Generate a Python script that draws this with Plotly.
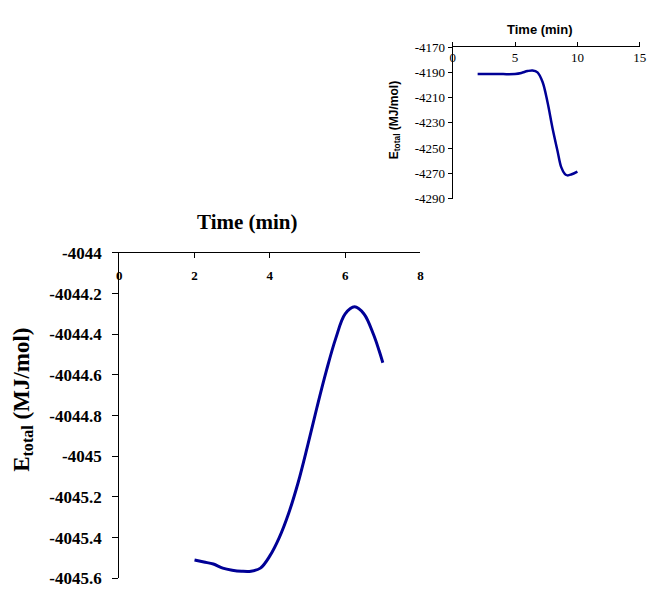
import plotly.graph_objects as go

# ---- Main chart data ----
main_time = [2.0, 2.25, 2.5, 2.75, 3.0, 3.25, 3.5, 3.75, 4.0, 4.25, 4.5, 4.75,
             5.0, 5.25, 5.5, 5.75, 6.0, 6.25, 6.5, 6.75, 6.9, 7.0]
main_energy = [-4045.51, -4045.52, -4045.53, -4045.55, -4045.56, -4045.565, -4045.565,
               -4045.55, -4045.49, -4045.40, -4045.28, -4045.13,
               -4044.95, -4044.76, -4044.58, -4044.42, -4044.30, -4044.265, -4044.30,
               -4044.40, -4044.48, -4044.54]
main_xticks = [0, 2, 4, 6, 8]
main_yticks = [-4044, -4044.2, -4044.4, -4044.6, -4044.8, -4045, -4045.2, -4045.4, -4045.6]
main_ytext = ["-4044", "-4044.2", "-4044.4", "-4044.6", "-4044.8", "-4045",
              "-4045.2", "-4045.4", "-4045.6"]

# ---- Inset chart data ----
inset_time = [2.0, 3.0, 4.0, 5.0, 5.5, 6.0, 6.4, 6.8, 7.2, 7.6, 8.0, 8.4, 8.7, 9.0, 9.2, 9.5, 10.0]
inset_energy = [-4191.4, -4191.4, -4191.4, -4191.3, -4190.5, -4189.0, -4188.5, -4190.0,
                -4197.5, -4213.5, -4234.0, -4252.0, -4265.0, -4270.5, -4271.5, -4270.8, -4268.5]
inset_xticks = [0, 5, 10, 15]
inset_yticks = [-4170, -4190, -4210, -4230, -4250, -4270, -4290]
inset_ytext = ["-4170", "-4190", "-4210", "-4230", "-4250", "-4270", "-4290"]

W, H = 652, 597
LINE = "#000096"
SERIF = "Liberation Serif, Times New Roman, serif"
SANS = "Liberation Sans, Arial, sans-serif"


def py(v):
    return 1 - v / H


MAIN_XDOM = [118 / W, 424 / W]
INSET_XDOM = [456.7 / W, 646.7 / W]

fig = go.Figure()
fig.add_trace(go.Scatter(x=main_time, y=main_energy, mode="lines",
                         line=dict(color=LINE, width=3, shape="spline"),
                         xaxis="x", yaxis="y", showlegend=False, hoverinfo="skip"))
fig.add_trace(go.Scatter(x=inset_time, y=inset_energy, mode="lines",
                         line=dict(color=LINE, width=2.5, shape="spline"),
                         xaxis="x2", yaxis="y2", showlegend=False, hoverinfo="skip"))
# empty traces so that the tick-label axes (x3 / x4) are drawn
fig.add_trace(go.Scatter(x=[], y=[], xaxis="x3", yaxis="y", showlegend=False))
fig.add_trace(go.Scatter(x=[], y=[], xaxis="x4", yaxis="y2", showlegend=False))

fig.update_layout(
    width=W, height=H, autosize=False,
    margin=dict(l=0, r=0, t=0, b=0),
    paper_bgcolor="white", plot_bgcolor="white",
    # main chart: axis line on top, labels via overlay axis just below
    xaxis=dict(domain=MAIN_XDOM, range=[0, 8], side="top",
               tickvals=main_xticks, showticklabels=False,
               showline=True, linecolor="black", linewidth=1,
               ticks="inside", ticklen=5, tickcolor="black",
               showgrid=False, zeroline=False, anchor="y"),
    xaxis3=dict(domain=MAIN_XDOM, overlaying="x", matches="x", anchor="free",
                position=py(265), side="bottom", range=[0, 8],
                tickvals=main_xticks, ticktext=[str(v) for v in main_xticks],
                showline=False, ticks="", showgrid=False, zeroline=False,
                ticklabeloverflow="allow",
                tickfont=dict(family=SERIF, size=13, color="black", weight="bold")),
    yaxis=dict(domain=[py(588), py(252)], range=[-4045.6, -4044],
               tickvals=main_yticks, ticktext=main_ytext,
               showline=True, linecolor="black", linewidth=1,
               ticks="outside", ticklen=6, tickcolor="black",
               ticklabelstandoff=7,
               showgrid=False, zeroline=False, ticklabeloverflow="allow",
               tickfont=dict(family=SERIF, size=17, color="black", weight="bold"),
               anchor="x"),
    # inset chart
    xaxis2=dict(domain=INSET_XDOM, range=[0, 15], side="top",
                tickvals=inset_xticks, showticklabels=False,
                showline=True, linecolor="black", linewidth=1,
                ticks="outside", ticklen=4, tickcolor="black",
                showgrid=False, zeroline=False, anchor="y2"),
    xaxis4=dict(domain=INSET_XDOM, overlaying="x2", matches="x2", anchor="free",
                position=py(40.5), side="bottom", range=[0, 15],
                tickvals=inset_xticks, ticktext=[str(v) for v in inset_xticks],
                showline=False, ticks="", showgrid=False, zeroline=False,
                ticklabeloverflow="allow",
                tickfont=dict(family=SERIF, size=13, color="black")),
    yaxis2=dict(domain=[py(196), py(39.3)], range=[-4290, -4170],
                tickvals=inset_yticks, ticktext=inset_ytext,
                showline=True, linecolor="black", linewidth=1,
                ticks="outside", ticklen=4, tickcolor="black",
                showgrid=False, zeroline=False, ticklabeloverflow="allow",
                tickfont=dict(family=SERIF, size=13, color="black"),
                anchor="x2"),
    annotations=[
        dict(text="Time (min)", x=248 / W, y=py(220), xref="paper", yref="paper",
             showarrow=False, xanchor="center", yanchor="middle",
             font=dict(family=SERIF, size=21, color="black", weight="bold")),
        dict(text="E<sub>total</sub> (MJ/mol)", x=20 / W, y=py(404),
             xref="paper", yref="paper", showarrow=False, textangle=-90,
             xanchor="center", yanchor="middle",
             font=dict(family=SERIF, size=23, color="black", weight="bold")),
        dict(text="Time (min)", x=545 / W, y=py(20.7), xref="paper", yref="paper",
             showarrow=False, xanchor="center", yanchor="middle",
             font=dict(family=SANS, size=13, color="black", weight="bold")),
        dict(text="E<sub>total</sub> (MJ/mol)", x=398 / W, y=py(115),
             xref="paper", yref="paper", showarrow=False, textangle=-90,
             xanchor="center", yanchor="middle",
             font=dict(family=SANS, size=12, color="black", weight="bold")),
    ],
)

# Remove the browser's default page margin so the figure sits at (0, 0).
fig.write_html("out.html", config={"displayModeBar": False},
               post_script="document.body.style.margin='0';")
